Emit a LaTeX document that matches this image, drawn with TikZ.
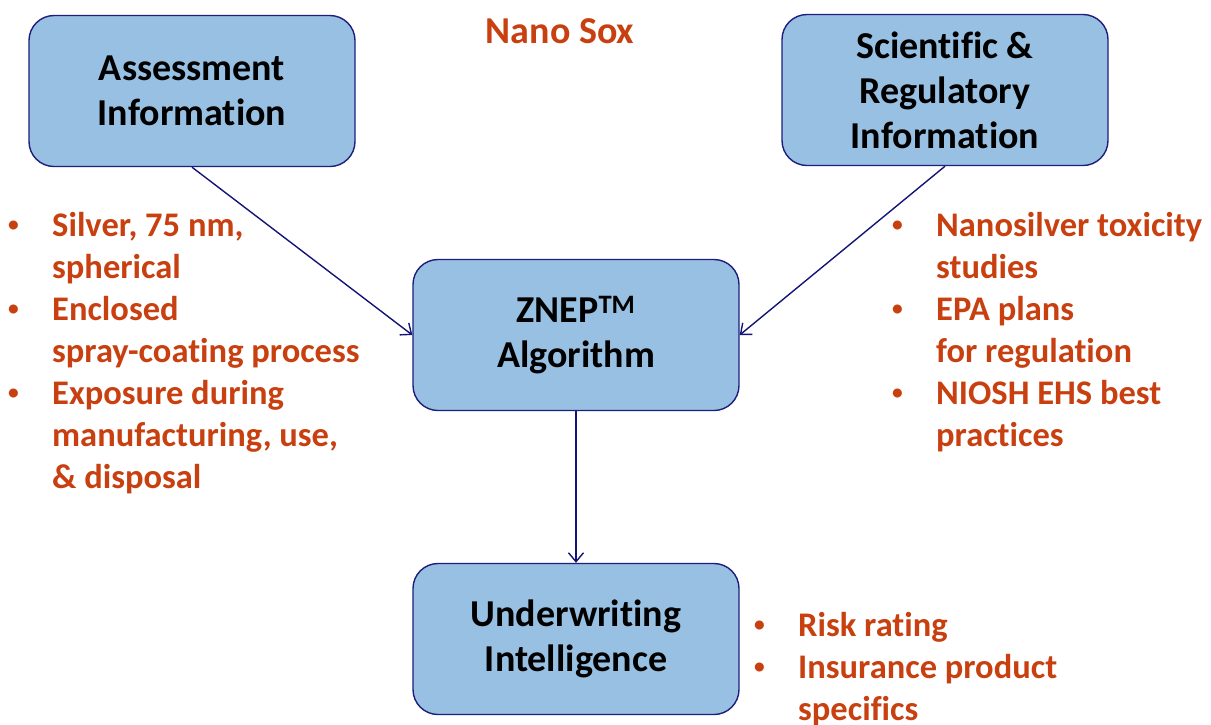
\documentclass[tikz,border=0pt]{standalone}
\usepackage{graphicx}
\usepackage{fontspec}
\setmainfont{Carlito}[Ligatures={NoCommon}]
\usetikzlibrary{arrows.meta}
\definecolor{boxfill}{RGB}{151,192,226}
\definecolor{boxline}{RGB}{30,30,125}
\definecolor{arrowc}{RGB}{20,20,120}
\definecolor{orangetxt}{RGB}{200,64,16}
\newcommand{\bul}{\makebox[44pt][l]{\raisebox{4.5pt}{\scalebox{0.62}{•}}}}
\newcommand{\ind}{\hspace*{44pt}}
\begin{document}
\begin{tikzpicture}[x=1pt,y=-1pt,
  infobox/.style={draw=boxline, line width=1.4pt, fill=boxfill, rounded corners=25pt,
    minimum width=326pt, minimum height=151pt, align=center, inner sep=0pt,
    font=\bfseries\fontsize{38}{45}\selectfont, text=black},
  conn/.style={draw=arrowc, line width=1.4pt, -{Straight Barb[length=9pt,width=15pt,line width=1.4pt]}},
  bullets/.style={anchor=north west, align=left, inner sep=0pt, text=orangetxt,
    font=\bfseries\fontsize{34.5}{42}\selectfont},
  titletxt/.style={text=orangetxt, font=\bfseries\fontsize{38}{42}\selectfont, inner sep=0pt}
]
\useasboundingbox (0,0) rectangle (1211,724);
\node[titletxt] (title) at (560,31) {Nano Sox};
\node[infobox] (assess) at (192,91) {Assessment\\Information};
\node[infobox] (sci) at (945,90) {Scientific \&\\Regulatory\\Information};
\node[infobox] (znep) at (576,335) {ZNEP\textsuperscript{TM}\\Algorithm};
\node[infobox] (under) at (576,639) {Underwriting\\Intelligence};
\draw[conn] (assess.south) -- (znep.west);
\draw[conn] (sci.south) -- (znep.east);
\draw[conn] (znep.south) -- (under.north);
\node[bullets] (leftlist) at (8,212) {\bul Silver, 75 nm,\\\ind spherical\\\bul Enclosed\\\ind spray-coating process\\\bul Exposure during\\\ind manufacturing, use,\\\ind \& disposal};
\node[bullets] (rightlist) at (892,212) {\bul Nanosilver toxicity\\\ind studies\\\bul EPA plans\\\ind for regulation\\\bul NIOSH EHS best\\\ind practices};
\node[bullets] (botlist) at (754,612) {\bul Risk rating\\\bul Insurance product\\\ind specifics};
\end{tikzpicture}
\end{document}
